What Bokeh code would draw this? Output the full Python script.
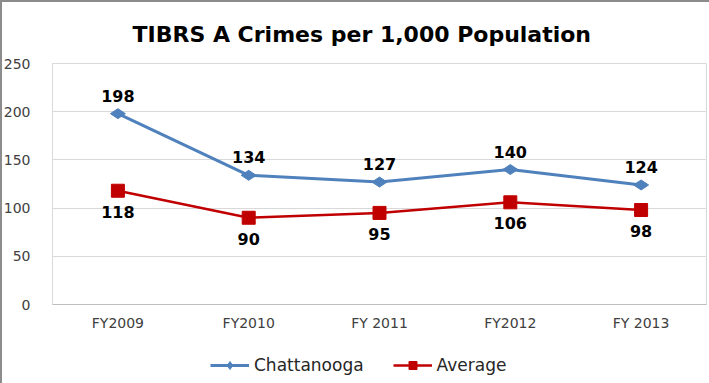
from bokeh.plotting import figure
from bokeh.models import ColumnDataSource, LabelSet, Legend, LegendItem, Range1d, FixedTicker, Title
from bokeh.core.properties import value
from bokeh.layouts import column
from bokeh.embed import file_html
from bokeh.resources import INLINE
import math

years = ["FY2009", "FY2010", "FY 2011", "FY2012", "FY 2013"]
chattanooga = [198, 134, 127, 140, 124]
average = [118, 90, 95, 106, 98]
y_ticks = [0, 50, 100, 150, 200, 250]

src = ColumnDataSource(dict(x=years, c=chattanooga, a=average,
                            cl=[str(v) for v in chattanooga],
                            al=[str(v) for v in average]))

p = figure(x_range=years, y_range=Range1d(0, 250), width=709, height=333,
           output_backend="svg", toolbar_location=None,
           min_border_left=52, min_border_right=3, min_border_top=63, min_border_bottom=29)
p.border_fill_color = None

p.title.text = "TIBRS A Crimes per 1,000 Population"
p.title.text_font = "DejaVu Sans"
p.title.text_font_style = "bold"
p.title.text_font_size = "22px"
p.title.align = "left"
p.title.offset = 80
p.title.standoff = 0
p.title.text_color = "#000000"
# spacer between the title and the plot area
p.add_layout(Title(text="\u00a0", text_font_size="13px", standoff=0), "above")

p.outline_line_color = "#D9D9D9"
p.xgrid.grid_line_color = None
p.ygrid.grid_line_color = "#D9D9D9"
p.yaxis.ticker = FixedTicker(ticks=y_ticks)
p.yaxis.axis_line_color = None
p.yaxis.major_tick_line_color = None
p.yaxis.minor_tick_line_color = None
p.yaxis.major_label_text_font = "DejaVu Sans"
p.yaxis.major_label_text_font_size = "14px"
p.yaxis.major_label_text_color = "#404040"
p.yaxis.major_label_standoff = 16
p.xaxis.axis_line_color = "#BFBFBF"
p.xaxis.major_tick_line_color = None
p.xaxis.major_label_text_font = "DejaVu Sans"
p.xaxis.major_label_text_font_size = "14px"
p.xaxis.major_label_text_color = "#404040"
p.xaxis.major_label_standoff = 4

blue = "#4F81BD"
red = "#C00000"
p.line("x", "c", source=src, line_color=blue, line_width=3)
p.scatter("x", "c", source=src, marker="diamond", size=15, angle=math.pi / 2,
          fill_color=blue, line_color=blue)
p.line("x", "a", source=src, line_color=red, line_width=2.5)
p.scatter("x", "a", source=src, marker="square", size=13,
          fill_color=red, line_color=red)

lab_kw = dict(text_font=value("DejaVu Sans"), text_font_size="16px",
              text_font_style="bold", text_align="center",
              text_baseline="middle", text_color="#000000")
p.add_layout(LabelSet(x="x", y="c", text="cl", source=src, y_offset=18, **lab_kw))
p.add_layout(LabelSet(x="x", y="a", text="al", source=src, y_offset=-21, **lab_kw))

# legend strip below the chart (series drawn out of view, only legend visible)
pl = figure(width=709, height=50, output_backend="svg", toolbar_location=None,
            x_range=years, y_range=Range1d(1000, 1001),
            x_axis_location=None, y_axis_location=None,
            min_border_left=0, min_border_right=0, min_border_top=0, min_border_bottom=0)
pl.outline_line_color = None
pl.grid.grid_line_color = None
pl.border_fill_color = None
pl.background_fill_color = None
g1 = pl.line("x", "c", source=src, line_color=blue, line_width=3)
g2 = pl.scatter("x", "c", source=src, marker="diamond", size=15, angle=math.pi / 2,
                fill_color=blue, line_color=blue)
g3 = pl.line("x", "a", source=src, line_color=red, line_width=2.5)
g4 = pl.scatter("x", "a", source=src, marker="square", size=13,
                fill_color=red, line_color=red)
legend = Legend(items=[LegendItem(label="Chattanooga", renderers=[g1, g2]),
                       LegendItem(label="Average", renderers=[g3, g4])],
                location=(158, 8), orientation="horizontal",
                border_line_color=None, background_fill_alpha=0,
                label_text_font="DejaVu Sans", label_text_font_size="17px",
                label_text_color="#262626", glyph_width=39, spacing=29,
                padding=0, margin=0, label_standoff=5)
pl.add_layout(legend)

layout = column(p, pl, spacing=0)
layout.styles = {"box-shadow": "inset 2px 2px 0 #8C8C8C"}
open("out.html", "w").write(file_html(layout, INLINE))
